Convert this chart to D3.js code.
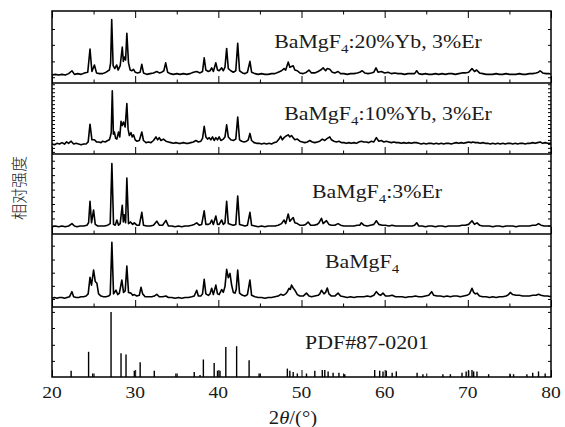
<!DOCTYPE html>
<html>
<head>
<meta charset="utf-8">
<script src="https://cdn.jsdelivr.net/npm/d3@7"></script>
<style>
  body { margin: 0; background: #fff; }
  text { font-family: "Liberation Serif", "Times New Roman", serif; fill: #1a1a1a; }
</style>
</head>
<body>
<div id="my_dataviz"></div>
<script>
// 2theta ticks
var xTicksMajor = [20, 30, 40, 50, 60, 70, 80];
var xTicksMinor = [25, 35, 45, 55, 65, 75];

// sample names (formula split for the subscript)
var labelPre = ["BaMgF", "BaMgF", "BaMgF", "BaMgF", "PDF#87-0201"];
var labelSub = ["4", "4", "4", "4", ""];
var labelPost = [":20%Yb, 3%Er", ":10%Yb, 3%Er", ":3%Er", "", ""];

// BaMgF4:20%Yb, 3%Er  [2theta, intensity]
var yb20 = [[20.0,11],[20.4,12],[20.8,11],[21.2,12],[21.6,11],[22.0,13],[22.4,17],[22.7,12],[23.1,13],[23.5,12],[23.9,14],[24.3,15],[24.57,47],[24.8,16],[25.1,25],[25.35,14],[25.7,13],[26.1,13],[26.5,15],[26.9,18],[27.05,28],[27.18,88],[27.35,24],[27.55,20],[27.78,25],[27.95,18],[28.2,24],[28.45,50],[28.58,30],[28.7,36],[28.85,32],[29.0,69],[29.2,28],[29.4,18],[29.6,17],[29.8,19],[30.0,15],[30.3,14],[30.6,15],[30.8,26],[31.0,14],[31.4,12],[31.8,13],[32.2,14],[32.6,16],[32.9,14],[33.2,15],[33.45,17],[33.67,28],[33.9,15],[34.2,13],[34.6,12],[35.0,13],[35.4,12],[35.8,13],[36.2,12],[36.6,13],[37.0,15],[37.4,16],[37.8,14],[38.1,16],[38.3,35],[38.5,18],[38.8,16],[39.0,17],[39.2,21],[39.4,16],[39.7,28],[39.9,18],[40.1,17],[40.4,21],[40.6,17],[40.8,22],[41.0,48],[41.2,20],[41.5,17],[41.8,15],[42.1,17],[42.33,55],[42.55,17],[42.9,14],[43.2,13],[43.5,15],[43.8,30],[44.0,15],[44.4,13],[44.8,12],[45.2,13],[45.6,12],[46.0,12],[46.4,13],[46.8,13],[47.2,15],[47.6,17],[47.9,20],[48.1,18],[48.4,29],[48.6,22],[49.0,24],[49.2,18],[49.5,17],[49.8,14],[50.2,13],[50.6,15],[50.9,18],[51.2,14],[51.6,14],[52.0,16],[52.3,18],[52.6,21],[52.9,17],[53.1,20],[53.4,19],[53.7,15],[54.0,14],[54.4,16],[54.7,13],[55.1,13],[55.5,12],[55.9,13],[56.3,13],[56.7,14],[57.0,15],[57.3,17],[57.6,14],[58.0,13],[58.4,14],[58.7,15],[58.96,21],[59.2,15],[59.6,16],[60.0,14],[60.4,15],[60.8,13],[61.2,14],[61.6,13],[62.0,13],[62.4,12],[62.8,13],[63.2,13],[63.6,13],[63.85,17],[64.1,13],[64.5,12],[64.9,13],[65.3,12],[65.7,12],[66.1,13],[66.5,12],[66.9,13],[67.3,12],[67.7,13],[68.1,13],[68.5,12],[68.9,13],[69.3,14],[69.7,14],[70.1,15],[70.5,20],[70.8,16],[71.06,18],[71.4,14],[71.8,13],[72.2,12],[72.6,12],[73.0,12],[73.4,13],[73.8,12],[74.2,12],[74.6,13],[75.0,12],[75.4,12],[75.8,12],[76.2,13],[76.6,12],[77.0,12],[77.4,13],[77.8,13],[78.2,14],[78.5,15],[78.7,17],[79.0,14],[79.4,13],[79.8,13],[80.0,12]];

// BaMgF4:10%Yb, 3%Er
var yb10 = [[20.0,14],[20.3,13],[20.6,15],[20.9,14],[21.2,16],[21.5,14],[21.76,17],[22.0,15],[22.3,18],[22.6,14],[22.9,15],[23.2,14],[23.5,13],[23.8,14],[24.1,14],[24.35,17],[24.57,42],[24.8,20],[25.1,20],[25.35,17],[25.6,17],[25.9,16],[26.1,18],[26.4,17],[26.7,19],[26.9,20],[27.0,24],[27.12,30],[27.25,89],[27.38,28],[27.5,31],[27.65,22],[27.8,21],[27.9,26],[28.0,31],[28.15,24],[28.3,46],[28.45,40],[28.6,45],[28.8,38],[29.0,71],[29.15,35],[29.3,26],[29.5,30],[29.65,24],[29.8,27],[30.0,20],[30.2,18],[30.5,19],[30.8,31],[31.0,19],[31.3,16],[31.6,17],[31.9,16],[32.2,19],[32.5,24],[32.7,20],[32.9,23],[33.1,19],[33.4,21],[33.7,18],[34.0,17],[34.3,16],[34.6,15],[34.9,16],[35.2,15],[35.5,15],[35.8,16],[36.1,15],[36.4,15],[36.7,16],[37.0,17],[37.3,19],[37.6,17],[37.9,18],[38.1,22],[38.3,39],[38.5,24],[38.7,21],[38.9,23],[39.1,20],[39.3,24],[39.5,19],[39.7,23],[39.9,20],[40.1,24],[40.3,19],[40.6,21],[40.8,24],[41.0,41],[41.2,24],[41.5,20],[41.8,19],[42.1,21],[42.33,52],[42.55,20],[42.8,18],[43.1,17],[43.4,18],[43.6,20],[43.8,29],[44.0,19],[44.3,16],[44.6,15],[44.9,15],[45.2,14],[45.5,15],[45.8,14],[46.1,15],[46.4,14],[46.7,16],[47.0,17],[47.3,21],[47.5,25],[47.7,20],[47.9,23],[48.1,25],[48.4,27],[48.6,24],[48.8,26],[49.0,23],[49.2,20],[49.5,21],[49.8,18],[50.1,17],[50.4,16],[50.7,17],[51.0,19],[51.3,17],[51.6,16],[51.9,17],[52.2,18],[52.5,21],[52.8,19],[53.1,22],[53.4,24],[53.6,20],[53.9,18],[54.2,17],[54.5,18],[54.8,16],[55.1,16],[55.4,15],[55.7,16],[56.0,15],[56.3,16],[56.6,15],[56.9,17],[57.2,18],[57.5,17],[57.8,17],[58.1,16],[58.4,18],[58.7,17],[59.0,23],[59.3,18],[59.6,19],[59.9,17],[60.2,18],[60.5,17],[60.8,16],[61.1,17],[61.4,16],[61.7,16],[62.0,15],[62.3,16],[62.6,15],[62.9,16],[63.2,15],[63.5,16],[63.8,16],[64.1,15],[64.4,14],[64.7,15],[65.0,14],[65.3,15],[65.6,15],[65.9,14],[66.2,15],[66.5,14],[66.8,15],[67.1,14],[67.4,15],[67.7,15],[68.0,14],[68.3,15],[68.6,16],[68.9,15],[69.2,16],[69.5,15],[69.8,16],[70.1,17],[70.4,16],[70.6,17],[70.9,16],[71.2,16],[71.5,15],[71.8,16],[72.1,15],[72.4,15],[72.7,14],[73.0,15],[73.3,14],[73.6,15],[73.9,14],[74.2,15],[74.5,14],[74.8,15],[75.1,15],[75.4,14],[75.7,15],[76.0,14],[76.3,15],[76.6,15],[76.9,14],[77.2,15],[77.5,15],[77.8,16],[78.1,15],[78.4,16],[78.7,17],[79.0,15],[79.3,16],[79.6,15],[80.0,15]];

// BaMgF4:3%Er
var er3 = [[20.0,9],[20.4,10],[20.8,9],[21.2,10],[21.6,9],[22.0,10],[22.4,13],[22.7,10],[23.0,9],[23.4,10],[23.8,10],[24.2,11],[24.4,14],[24.57,41],[24.75,14],[25.0,30],[25.2,12],[25.5,10],[25.9,10],[26.3,10],[26.7,11],[27.0,13],[27.2,88],[27.4,12],[27.6,11],[27.8,17.5],[28.0,11],[28.2,13],[28.45,36],[28.58,15],[28.7,24],[28.85,14],[29.0,70],[29.2,13],[29.45,15],[29.7,12],[29.9,14],[30.2,11],[30.5,11],[30.8,27],[31.0,11],[31.4,10],[31.8,10],[32.2,11],[32.6,16],[32.9,11],[33.3,11],[33.7,17],[34.0,10],[34.4,10],[34.8,9],[35.2,10],[35.6,9],[36.0,10],[36.4,10],[36.8,11],[37.1,12],[37.4,14],[37.7,11],[38.0,12],[38.3,29],[38.5,12],[38.8,12],[39.0,13],[39.2,17.5],[39.4,12],[39.7,22.5],[39.9,12],[40.1,12],[40.4,17.5],[40.6,12],[40.8,14],[41.0,41],[41.2,13],[41.5,12],[41.8,11],[42.1,12],[42.33,47.5],[42.55,12],[42.9,11],[43.2,10],[43.5,11],[43.8,27],[44.0,11],[44.4,10],[44.8,9],[45.2,10],[45.6,9],[46.0,10],[46.4,10],[46.8,10],[47.2,11],[47.6,13],[47.9,17.5],[48.1,13],[48.4,25],[48.6,16],[49.0,20.6],[49.2,14],[49.5,13],[49.8,11],[50.2,11],[50.5,12],[50.8,15],[51.1,11],[51.5,11],[51.9,12],[52.1,14],[52.4,19.6],[52.6,13],[53.0,16.6],[53.3,12],[53.6,11],[54.0,11],[54.4,13],[54.7,11],[55.1,10],[55.5,10],[55.9,10],[56.3,10],[56.7,11],[57.0,11],[57.2,14],[57.5,11],[57.9,10],[58.3,11],[58.7,12],[59.0,16.6],[59.3,12],[59.7,11],[60.1,11],[60.5,10],[60.9,11],[61.3,10],[61.7,10],[62.1,10],[62.5,10],[62.9,10],[63.3,10],[63.6,11],[63.85,14],[64.1,10],[64.5,10],[64.9,9],[65.3,10],[65.7,10],[66.1,9],[66.5,10],[66.9,10],[67.3,9],[67.7,10],[68.1,10],[68.5,10],[68.9,10],[69.3,11],[69.7,11],[70.1,12],[70.5,16.6],[70.8,12],[71.1,14],[71.4,11],[71.8,10],[72.2,10],[72.6,10],[73.0,9],[73.4,10],[73.8,10],[74.2,9],[74.6,10],[75.0,10],[75.4,10],[75.8,9],[76.2,10],[76.6,10],[77.0,10],[77.4,10],[77.8,11],[78.2,11],[78.5,13],[78.8,11],[79.2,10],[79.6,10],[80.0,10]];

// BaMgF4
var pure = [[20.0,12],[20.3,13],[20.6,12],[20.9,13],[21.2,13],[21.5,12],[21.8,13],[22.1,14],[22.4,21],[22.6,14],[22.9,13],[23.2,13],[23.5,14],[23.8,14],[24.1,15],[24.35,18],[24.57,40.6],[24.75,30],[25.0,50.7],[25.2,35],[25.4,32.5],[25.6,18],[25.9,15],[26.2,14],[26.5,14],[26.8,15],[27.0,17],[27.2,88.6],[27.4,18],[27.7,23],[27.9,17],[28.1,19],[28.4,37],[28.6,20],[28.8,22],[29.0,56],[29.2,20],[29.5,19],[29.7,16],[29.9,17],[30.2,15],[30.5,16],[30.7,27],[30.9,18],[31.2,14],[31.6,14],[32.0,14],[32.3,15],[32.6,17.4],[32.9,14],[33.3,14],[33.7,15],[34.0,13],[34.4,13],[34.8,12],[35.2,13],[35.6,12],[36.0,13],[36.4,13],[36.8,14],[37.1,15],[37.4,23],[37.6,15],[37.9,15],[38.1,18],[38.3,38],[38.5,18],[38.8,16],[39.0,18],[39.2,25.6],[39.4,17],[39.7,30],[39.9,18],[40.1,17],[40.4,24],[40.6,20],[40.8,28],[41.0,51.6],[41.2,40],[41.4,46],[41.6,30],[41.8,20],[42.0,19],[42.15,24],[42.33,50.7],[42.55,19],[42.9,16],[43.2,15],[43.5,17],[43.8,37],[44.0,16],[44.4,14],[44.8,13],[45.2,13],[45.6,12],[46.0,13],[46.4,13],[46.8,14],[47.2,15],[47.5,17.4],[47.8,16],[48.1,18],[48.3,21],[48.5,25.6],[48.65,24],[48.8,30],[49.0,26],[49.2,23],[49.5,17],[49.8,15],[50.2,15],[50.6,19],[50.9,15],[51.2,14],[51.6,15],[52.0,16],[52.2,18],[52.4,23],[52.7,18],[52.9,20],[53.1,26],[53.3,18],[53.6,15],[54.0,15],[54.4,19],[54.7,15],[55.1,14],[55.5,13],[55.9,14],[56.3,13],[56.7,14],[57.1,14],[57.5,14],[57.9,15],[58.3,14],[58.7,16],[59.0,21],[59.3,17],[59.5,16],[59.8,19],[60.1,15],[60.5,15],[60.9,16],[61.3,14],[61.7,14],[62.1,14],[62.5,13],[62.9,14],[63.3,14],[63.7,15],[64.1,14],[64.5,14],[64.9,15],[65.3,16],[65.65,21],[65.9,16],[66.3,15],[66.7,15],[67.1,14],[67.5,15],[67.9,14],[68.3,15],[68.7,15],[69.1,14],[69.5,15],[69.9,16],[70.2,18],[70.5,25.6],[70.7,20],[70.9,18],[71.1,19],[71.4,15],[71.8,14],[72.2,14],[72.6,13],[73.0,14],[73.4,13],[73.8,14],[74.2,14],[74.6,15],[74.9,17],[75.1,20],[75.4,17],[75.8,16],[76.2,16],[76.6,15],[77.0,15],[77.4,15],[77.8,16],[78.2,16],[78.5,17.4],[78.8,16],[79.2,15],[79.6,15],[80.0,14]];

// PDF#87-0201 reference lines
var pdfSticks = [[22.3,9],[24.4,36],[24.9,5],[27.1,93],[28.3,34],[28.9,32],[29.9,9],[30.6,21],[32.3,9],[34.9,5],[37.1,7],[37.8,3],[38.2,25],[39.5,20],[39.9,9],[40.2,9],[40.9,43],[42.2,44],[43.7,24],[44.9,5],[48.3,12],[48.6,9],[49.0,7],[49.5,5],[50.6,5],[51.6,9],[52.5,10],[52.8,10],[53.2,8],[53.8,6],[54.5,6],[55.2,4],[58.8,10],[59.4,9],[59.8,8],[60.2,9],[60.9,6],[61.4,8],[63.9,6],[64.6,4],[67.0,4],[67.9,4],[69.3,6],[69.8,8],[70.1,9],[70.5,10],[70.7,8],[71.1,8],[72.5,4],[75.1,4],[75.5,4],[77.1,4],[77.8,6],[78.5,8],[79.3,5]];

// unlabeled intensity ticks of each panel
var yTicks1 = [8, 30, 53, 75];
var yTicks2 = [3, 8.6, 14.2, 19.8, 25.4, 31, 36.6, 42.2, 47.8, 53.4, 59, 64.6, 70.2, 75.8, 81.4, 87, 92.6, 98.2];
var yTicks3 = [10.4, 19.4, 28.5, 37.5, 46.5, 55.5, 64.6, 73.6, 82.6, 91.6];
var yTicks4 = [11, 29, 47, 65, 84];
var yTicks5 = [23, 46, 70, 93];

var width = 565, height = 427;
var left = 52, right = 551;
var bounds = [11, 83, 154, 234, 307, 377];

var svg = d3.select("#my_dataviz")
  .append("svg")
    .attr("width", width)
    .attr("height", height);

var x = d3.scaleLinear()
  .domain([20, 80])
  .range([left, right]);

var traces = [yb20, yb10, er3, pure];
var yTicks = [yTicks1, yTicks2, yTicks3, yTicks4, yTicks5];
var yScales = [];

for (var i = 0; i < 5; i++) {
  yScales.push(d3.scaleLinear().domain([0, 100]).range([bounds[i + 1], bounds[i]]));
}

// the measured patterns
traces.forEach(function(tr, i) {
  svg.append("path")
    .datum(tr)
    .attr("fill", "none")
    .attr("stroke", "#000")
    .attr("stroke-width", 1.6)
    .attr("stroke-linejoin", "round")
    .attr("d", d3.line()
      .x(function(d) { return x(d[0]); })
      .y(function(d) { return yScales[i](d[1]); })
    );
});

// standard card sticks
svg.append("g")
  .selectAll("line")
  .data(pdfSticks)
  .enter().append("line")
    .attr("x1", function(d) { return x(d[0]); })
    .attr("x2", function(d) { return x(d[0]); })
    .attr("y1", yScales[4](0))
    .attr("y2", function(d) { return yScales[4](d[1]); })
    .attr("stroke", "#000")
    .attr("stroke-width", 1.4);

// ticks
function cleanAxis(g) {
  g.select(".domain").remove();
  g.selectAll(".tick line").attr("stroke", "#000").attr("stroke-width", 1);
}

for (var i = 0; i < 5; i++) {
  svg.append("g")
    .attr("transform", "translate(" + left + ",0)")
    .call(d3.axisRight(yScales[i]).tickValues(yTicks[i]).tickSize(3).tickFormat(""))
    .call(cleanAxis);
  svg.append("g")
    .attr("transform", "translate(" + right + ",0)")
    .call(d3.axisLeft(yScales[i]).tickValues(yTicks[i]).tickSize(3).tickFormat(""))
    .call(cleanAxis);

  svg.append("g")
    .attr("transform", "translate(0," + bounds[i + 1] + ")")
    .call(d3.axisTop(x).tickValues(xTicksMajor).tickSize(7).tickFormat(""))
    .call(cleanAxis);
  svg.append("g")
    .attr("transform", "translate(0," + bounds[i + 1] + ")")
    .call(d3.axisTop(x).tickValues(xTicksMinor).tickSize(3.5).tickFormat(""))
    .call(cleanAxis);
}

svg.append("g")
  .attr("transform", "translate(0," + bounds[0] + ")")
  .call(d3.axisBottom(x).tickValues(xTicksMajor).tickSize(7).tickFormat(""))
  .call(cleanAxis);
svg.append("g")
  .attr("transform", "translate(0," + bounds[0] + ")")
  .call(d3.axisBottom(x).tickValues(xTicksMinor).tickSize(3.5).tickFormat(""))
  .call(cleanAxis);

// frame and panel separators
svg.append("rect")
  .attr("x", left)
  .attr("y", bounds[0])
  .attr("width", right - left)
  .attr("height", bounds[5] - bounds[0])
  .attr("fill", "none")
  .attr("stroke", "#000")
  .attr("stroke-width", 1.5);

svg.append("g")
  .selectAll("line")
  .data(bounds.slice(1, 5))
  .enter().append("line")
    .attr("x1", left)
    .attr("x2", right)
    .attr("y1", function(d) { return d; })
    .attr("y2", function(d) { return d; })
    .attr("stroke", "#000")
    .attr("stroke-width", 1.5);

// x tick labels
svg.append("g")
  .selectAll("text")
  .data(xTicksMajor)
  .enter().append("text")
    .attr("transform", function(d) { return "translate(" + x(d) + ",398) scale(1.15,1)"; })
    .attr("text-anchor", "middle")
    .style("font-size", "17px")
    .text(function(d) { return d; });

// axis titles
var xt = svg.append("text")
  .attr("transform", "translate(293,424) scale(1.15,1)")
  .attr("text-anchor", "middle")
  .style("font-size", "18px");
xt.append("tspan").text("2");
xt.append("tspan").style("font-style", "italic").text("θ");
xt.append("tspan").text("/(°)");

svg.append("text")
  .attr("transform", "translate(25,188) rotate(-90)")
  .attr("text-anchor", "middle")
  .style("font-family", "'Noto Sans CJK SC', sans-serif")
  .style("font-size", "16px")
  .style("font-weight", 300)
  .text("相对强度");

// panel labels
var labelPos = [[378, 48], [388, 120], [377, 198], [362, 268], [367, 349]];
labelPre.forEach(function(p, i) {
  var t = svg.append("text")
    .attr("transform", "translate(" + labelPos[i][0] + "," + labelPos[i][1] + ") scale(1.15,1)")
    .attr("text-anchor", "middle")
    .style("font-size", "19px");
  t.append("tspan").text(p);
  if (labelSub[i] !== "") {
    t.append("tspan").attr("dy", 5).style("font-size", "13px").text(labelSub[i]);
    if (labelPost[i] !== "") t.append("tspan").attr("dy", -5).text(labelPost[i]);
  }
});
</script>
</body>
</html>
